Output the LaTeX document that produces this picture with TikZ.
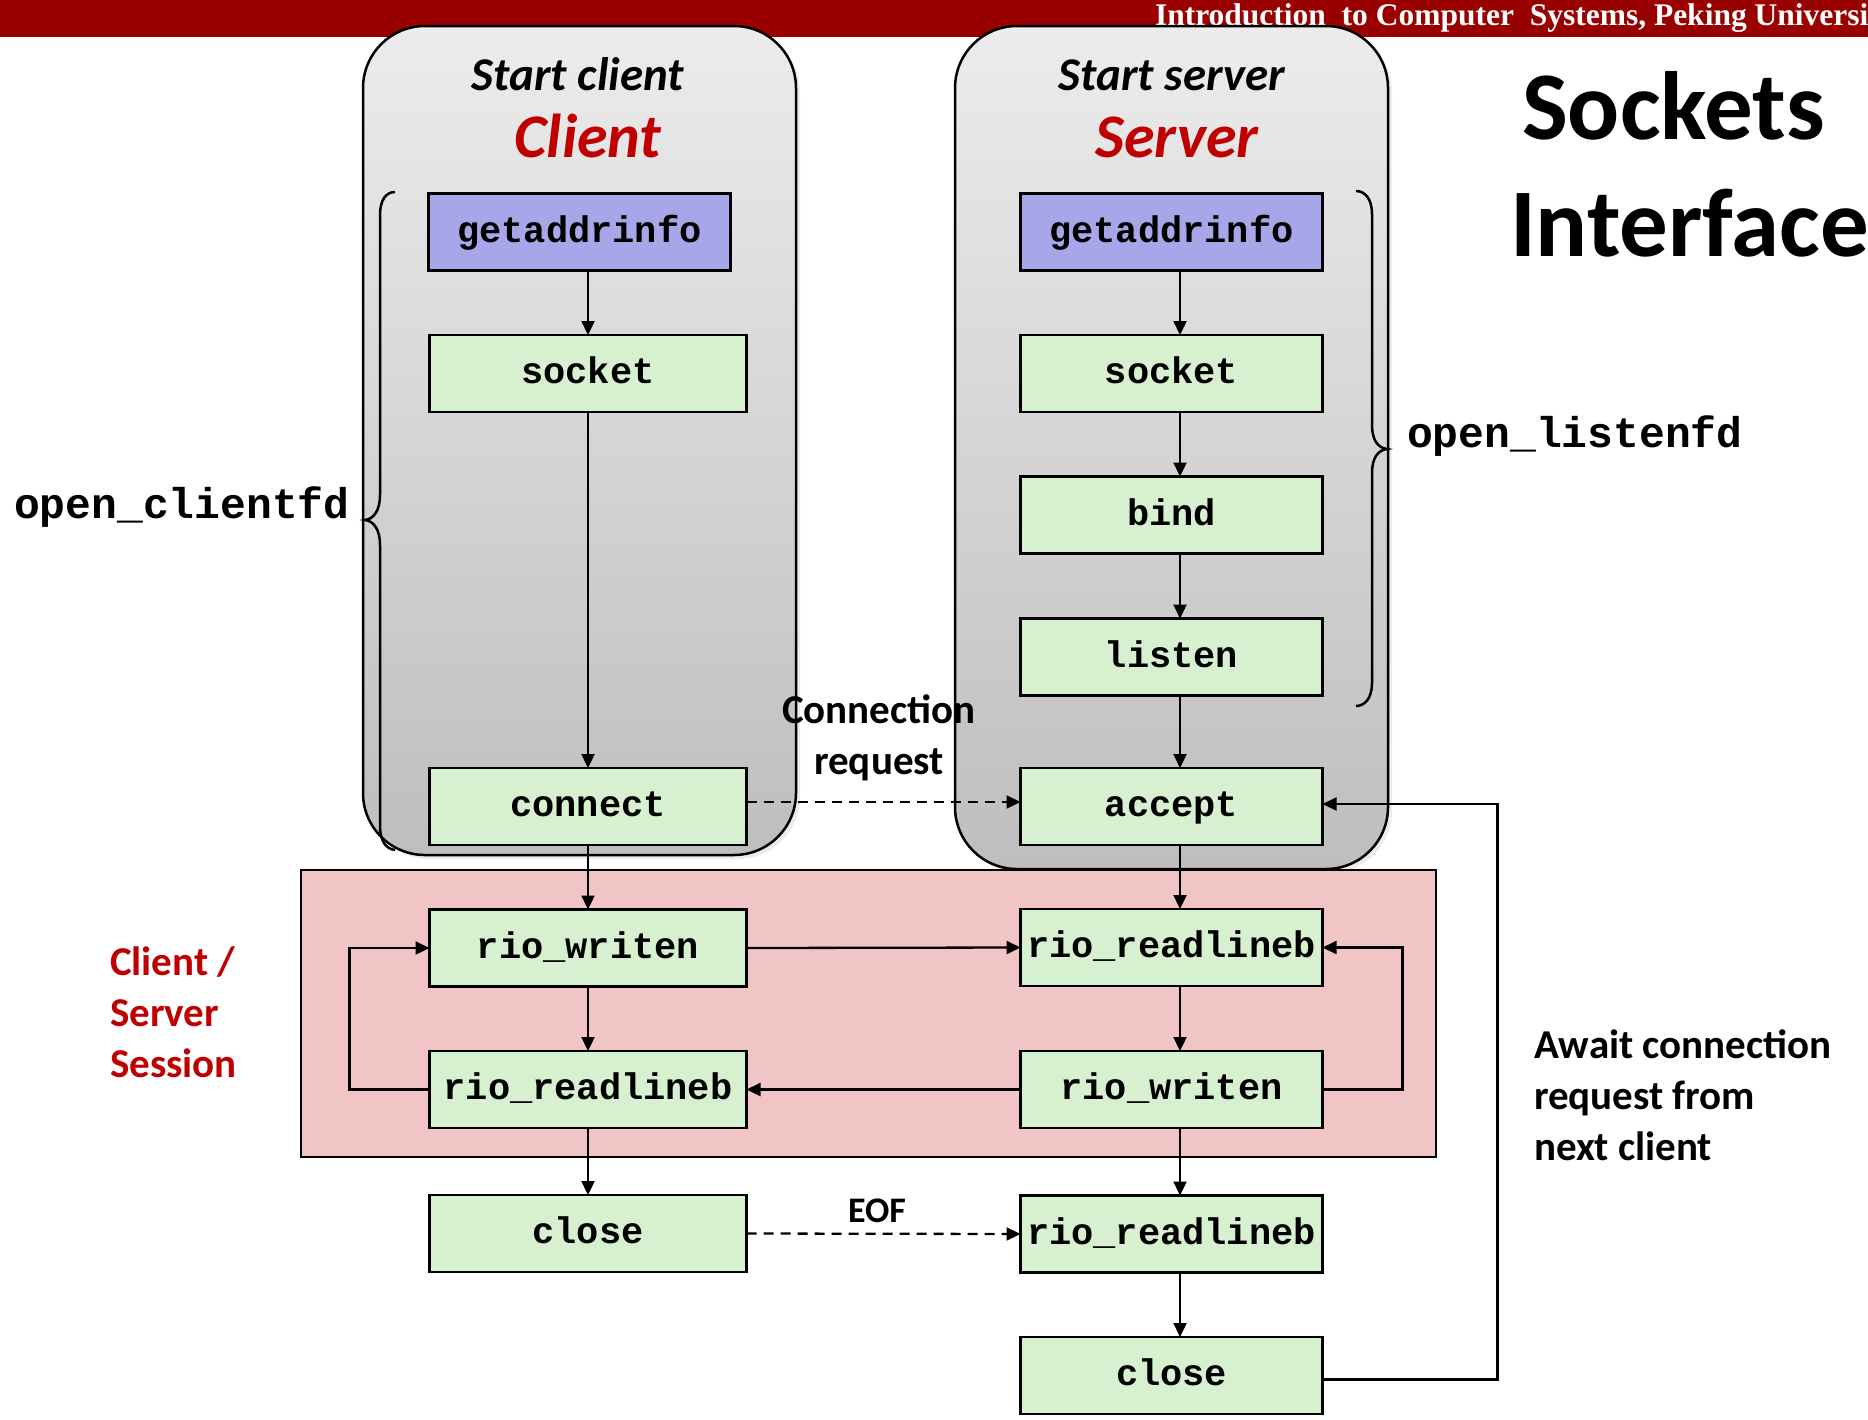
\documentclass[tikz,border=0pt]{standalone}
\usepackage{fontspec}
\setmainfont{Carlito}
\newfontfamily\codefont{Liberation Mono}
\newfontfamily\bannerfont{Liberation Serif}
\usetikzlibrary{arrows.meta,shadows}

\definecolor{bannerred}{RGB}{153,0,0}
\definecolor{titlered}{RGB}{192,0,0}
\definecolor{boxgreen}{RGB}{214,240,208}
\definecolor{boxblue}{RGB}{166,166,232}
\definecolor{sessionpink}{RGB}{241,196,197}
\definecolor{greytop}{RGB}{236,236,236}
\definecolor{greybot}{RGB}{190,190,190}

\begin{document}
\begin{tikzpicture}[x=1pt,y=-1pt,
  every node/.style={inner sep=0pt, outer sep=0pt},
  fnbox/.style={draw=black, line width=2.6pt, fill=boxgreen, minimum height=77pt,
    font=\codefont\bfseries\fontsize{37}{44}\selectfont, text height=26pt, text depth=6pt},
  cbox/.style={fnbox, minimum width=317pt},
  sbox/.style={fnbox, minimum width=302pt},
  flow/.style={line width=2.3pt, -{Triangle[length=14pt,width=13pt]}},
  link/.style={flow, dash pattern=on 10pt off 7pt},
  greybox/.style={draw=black, line width=2.5pt, rounded corners=62pt,
    top color=greytop, bottom color=greybot,
    drop shadow={opacity=0.15, shadow xshift=4pt, shadow yshift=-4pt}},
  bracket/.style={draw=black, line width=2.5pt},
  note/.style={font=\bfseries\fontsize{41}{51}\selectfont},
  fnlabel/.style={font=\codefont\bfseries\fontsize{43}{50}\selectfont},
]
\useasboundingbox (0,0) rectangle (1868,1419);

% title banner (the running title runs past the right edge)
\fill[bannerred] (0,0) rectangle (1868,37);
\begin{scope}
  \clip (0,0) rectangle (1868,37);
  \node[anchor=base west, text=white, font=\bannerfont\bfseries\fontsize{31.5}{36}\selectfont]
    (banner) at (1155,25) {Introduction\ \ to Computer\ \ Systems, Peking University};
\end{scope}

% client and server panels
\draw[greybox] (363,26) rectangle (796,855);
\draw[greybox] (955,26) rectangle (1388,869);

% client/server session area
\draw[fill=sessionpink, line width=2pt] (301,870) rectangle (1436,1157);

% panel titles
\node[anchor=base, font=\bfseries\itshape\fontsize{47}{50}\selectfont] (cstart) at (578,90) {Start client};
\node[anchor=base, text=titlered, font=\bfseries\itshape\fontsize{62}{66}\selectfont] (ctitle) at (588,157) {Client};
\node[anchor=base, font=\bfseries\itshape\fontsize{47}{50}\selectfont] (sstart) at (1172,90) {Start server};
\node[anchor=base, text=titlered, font=\bfseries\itshape\fontsize{62}{66}\selectfont] (stitle) at (1177,157) {Server};

% heading
\node[anchor=base west, font=\bfseries\fontsize{97}{100}\selectfont] (sockets) at (1522,139) {Sockets};
\node[anchor=base west, font=\bfseries\fontsize{97}{100}\selectfont] (iface) at (1510,256) {Interface};

% braces grouping the helper functions
\draw[bracket] (395,192) .. controls (386,192) and (380,200) .. (380,215)
  -- (380,495) .. controls (380,510) and (374,519) .. (365,520)
  .. controls (374,521) and (380,530) .. (380,545)
  -- (380,826) .. controls (380,841) and (386,849) .. (395,850);
\draw[bracket] (1356,191) .. controls (1365,191) and (1372,199) .. (1372,214)
  -- (1372,425) .. controls (1372,440) and (1378,448) .. (1387,449)
  .. controls (1378,450) and (1372,458) .. (1372,473)
  -- (1372,683) .. controls (1372,698) and (1365,706) .. (1356,706);
\node[anchor=base west, fnlabel] (openc) at (14,518) {open\_clientfd};
\node[anchor=base west, fnlabel] (openl) at (1407,447) {open\_listenfd};

% client calls
\node[cbox, fill=boxblue, minimum width=302pt] (cgai) at (579.5,232) {getaddrinfo};
\node[cbox] (csock)  at (588,373.5)  {socket};
\node[cbox] (cconn)  at (588,806.5)  {connect};
\node[cbox] (cwrite) at (588,948)    {rio\_writen};
\node[cbox] (cread)  at (588,1089.5) {rio\_readlineb};
\node[cbox] (cclose) at (588,1233.5) {close};

% server calls
\node[sbox, fill=boxblue] (sgai) at (1171.5,232) {getaddrinfo};
\node[sbox] (ssock)   at (1171.5,373.5)  {socket};
\node[sbox] (sbind)   at (1171.5,515)    {bind};
\node[sbox] (slisten) at (1171.5,657)    {listen};
\node[sbox] (saccept) at (1171.5,806.5)  {accept};
\node[sbox] (sread)   at (1171.5,947.5)  {rio\_readlineb};
\node[sbox] (swrite)  at (1171.5,1089.5) {rio\_writen};
\node[sbox] (seof)    at (1171.5,1234)   {rio\_readlineb};
\node[sbox] (sclose)  at (1171.5,1375.5) {close};

% call columns
\coordinate (cx) at (588,0);
\coordinate (sx) at (1180,0);

\draw[flow] (cgai.south -| cx) -- (csock.north);
\draw[flow] (csock.south) -- (cconn.north);
\draw[flow] (cconn.south) -- (cwrite.north);
\draw[flow] (cwrite.south) -- (cread.north);
\draw[flow] (cread.south) -- (cclose.north);

\draw[flow] (sgai.south -| sx) -- (ssock.north -| sx);
\draw[flow] (ssock.south -| sx) -- (sbind.north -| sx);
\draw[flow] (sbind.south -| sx) -- (slisten.north -| sx);
\draw[flow] (slisten.south -| sx) -- (saccept.north -| sx);
\draw[flow] (saccept.south -| sx) -- (sread.north -| sx);
\draw[flow] (sread.south -| sx) -- (swrite.north -| sx);
\draw[flow] (swrite.south -| sx) -- (seof.north -| sx);
\draw[flow] (seof.south -| sx) -- (sclose.north -| sx);

% exchanges between client and server
\draw[link] ([yshift=4.5pt]cconn.east) -- ([yshift=4.5pt]saccept.west);
\draw[flow] (cwrite.east) -- (sread.west);
\draw[flow] (swrite.west) -- (cread.east);
\draw[link] (cclose.east) -- (seof.west);

% loops
\draw[flow] (cread.west) -- ++(-80,0) |- (cwrite.west);
\draw[flow] (swrite.east) -- ++(80,0) |- (sread.east);
\draw[flow] ([yshift=-4pt]sclose.east) -- ++(175,0) |- ([yshift=2.5pt]saccept.east);

% annotations
\node[anchor=base, note] (connreq) at (879,723) {\parbox[t]{260pt}{\centering Connection\\request}};
\node[anchor=base, font=\bfseries\fontsize{36}{40}\selectfont] (eof) at (877,1222) {EOF};
\node[anchor=base west, note, text=titlered] (session) at (110,975) {\parbox[t]{200pt}{\raggedright Client /\\Server\\Session}};
\node[anchor=base west, note] (await) at (1534,1058) {\parbox[t]{330pt}{\raggedright Await connection\\request from\\next client}};
\end{tikzpicture}
\end{document}
